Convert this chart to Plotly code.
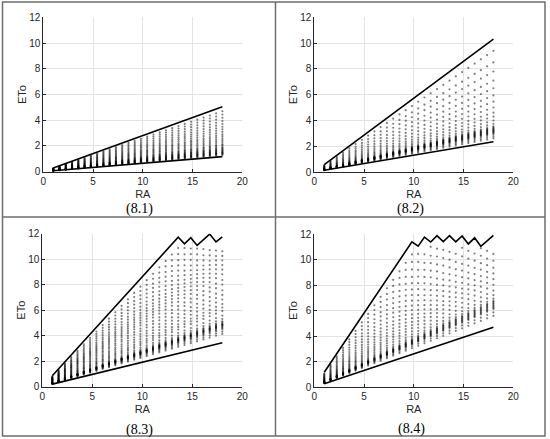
import plotly.graph_objects as go

# ---------------- data ----------------
# RA values of the dotted columns (same in all four panels)
ra = [1.00, 1.63, 2.26, 2.89, 3.52, 4.15, 4.78, 5.41, 6.04, 6.67,
      7.30, 7.93, 8.56, 9.19, 9.81, 10.44, 11.07, 11.70, 12.33, 12.96,
      13.59, 14.22, 14.85, 15.48, 16.11, 16.74, 17.37, 18.00]

# dots lie on rays from the origin: ETo / RA ratios read per panel
p1_ratio = [0.261, 0.247, 0.233, 0.219, 0.206, 0.194, 0.183, 0.172, 0.161,
            0.153, 0.144, 0.136, 0.128, 0.119, 0.114, 0.108, 0.103, 0.099,
            0.096, 0.092, 0.089, 0.086, 0.083, 0.081, 0.078, 0.075, 0.072]
p2_ratio = [0.522, 0.472, 0.433, 0.394, 0.361, 0.330, 0.303, 0.278, 0.256,
            0.239, 0.222, 0.208, 0.197, 0.192, 0.188, 0.185, 0.182, 0.179,
            0.176, 0.173, 0.170, 0.167, 0.161, 0.153, 0.145]
p3_ratio = [0.800, 0.765, 0.730, 0.700, 0.670, 0.640, 0.615, 0.590, 0.570,
            0.550, 0.530, 0.510, 0.490, 0.465, 0.445, 0.420, 0.400, 0.380,
            0.360, 0.345, 0.330, 0.310, 0.295, 0.285, 0.280, 0.275, 0.272,
            0.270, 0.267, 0.264, 0.260, 0.255, 0.250, 0.240, 0.230]
p4_ratio = [1.060, 1.000, 0.940, 0.880, 0.830, 0.780, 0.735, 0.690, 0.650,
            0.615, 0.580, 0.550, 0.520, 0.495, 0.470, 0.445, 0.420, 0.400,
            0.385, 0.375, 0.370, 0.365, 0.360, 0.355, 0.350, 0.345, 0.340,
            0.325, 0.310]
# largest ETo shown as a dot (panels 8.3 / 8.4)
dot_cap = [None, None, 11.0, 11.0]

# boundary lines: straight ones given at RA = 1 and RA = 18
p1_upper = [0.28, 5.05]
p1_lower = [0.07, 1.17]
p2_upper = [0.57, 10.30]
p2_lower = [0.14, 2.35]
p3_upper = [0.86, 1.40, 1.94, 2.49, 3.03, 3.57, 4.11, 4.65, 5.19, 5.74,
            6.28, 6.82, 7.36, 7.90, 8.44, 8.98, 9.52, 10.06, 10.60, 11.15,
            11.72, 11.20, 11.68, 11.08, 11.52, 11.97, 11.35, 11.75]
p3_lower = [0.20, 3.45]
p4_upper = [1.16, 1.89, 2.62, 3.35, 4.08, 4.81, 5.54, 6.28, 7.01, 7.74,
            8.47, 9.20, 9.93, 10.66, 11.38, 11.04, 11.76, 11.37, 11.87, 11.40,
            11.87, 11.38, 11.85, 11.22, 11.70, 11.04, 11.45, 11.90]
p4_lower = [0.26, 4.68]

captions = ["(8.1)", "(8.2)", "(8.3)", "(8.4)"]
x_ticks = [0, 5, 10, 15, 20]
y_ticks = [0, 2, 4, 6, 8, 10, 12]

# ---------------- layout geometry (pixels) ----------------
W, H = 550, 439
# plot areas: (x_left, x_right, y_bottom, y_top) in pixels
areas = [(43.3, 242.3, 171.7, 17.3),
         (314.3, 513.3, 172.0, 17.3),
         (42.3, 242.3, 386.7, 233.7),
         (314.3, 513.3, 387.0, 234.0)]
caption_pos = [(140, 209), (410, 209), (139, 430), (411, 429)]

ratios = [p1_ratio, p2_ratio, p3_ratio, p4_ratio]
uppers = [p1_upper, p2_upper, p3_upper, p4_upper]
lowers = [p1_lower, p2_lower, p3_lower, p4_lower]


def fx(x):
    return x / W


def fy(y):
    return 1 - y / H


def line_x(vals):
    return [ra[0], ra[-1]] if len(vals) == 2 else ra


fig = go.Figure()
axis_font = dict(family="Liberation Sans, Arial, sans-serif", size=10, color="#262626")
title_font = dict(family="Liberation Sans, Arial, sans-serif", size=11, color="#262626")

for i in range(4):
    sx = "" if i == 0 else str(i + 1)
    xs, ys = [], []
    for r in ra:
        for k in ratios[i]:
            v = r * k
            if dot_cap[i] is not None and v > dot_cap[i]:
                continue
            xs.append(r)
            ys.append(v)
    fig.add_trace(go.Scatter(x=xs, y=ys, mode="markers",
                             marker=dict(size=2.2, color="black", opacity=0.5,
                                         line=dict(width=0)),
                             xaxis="x" + sx, yaxis="y" + sx, hoverinfo="skip"))
    fig.add_trace(go.Scatter(x=line_x(uppers[i]), y=uppers[i], mode="lines",
                             line=dict(color="black", width=1.6),
                             xaxis="x" + sx, yaxis="y" + sx))
    fig.add_trace(go.Scatter(x=line_x(lowers[i]), y=lowers[i], mode="lines",
                             line=dict(color="black", width=1.6),
                             xaxis="x" + sx, yaxis="y" + sx))

    xl, xr, yb, yt = areas[i]
    common = dict(showgrid=True, gridcolor="#e3e3e3", gridwidth=1, zeroline=False,
                  showline=True, linecolor="#262626", linewidth=1,
                  ticks="inside", ticklen=3, tickcolor="#262626",
                  tickfont=axis_font, mirror=False, automargin=False)
    fig.layout["xaxis" + sx] = dict(common, domain=[fx(xl), fx(xr)], range=[0, 20],
                                    tickvals=x_ticks, anchor="y" + sx,
                                    title=dict(text="RA", font=title_font, standoff=4))
    fig.layout["yaxis" + sx] = dict(common, domain=[fy(yb), fy(yt)], range=[0, 12],
                                    tickvals=y_ticks, anchor="x" + sx,
                                    title=dict(text="ETo", font=title_font, standoff=0))
    cx, cy = caption_pos[i]
    fig.add_annotation(text=captions[i], x=fx(cx), y=fy(cy), xref="paper", yref="paper",
                       showarrow=False, xanchor="center", yanchor="middle",
                       font=dict(family="Liberation Serif, Times New Roman, serif",
                                 size=14, color="black"))

# table borders
bc = dict(color="#6e6e6e", width=1.5)
shapes = [
    dict(type="rect", xref="paper", yref="paper", x0=fx(2.5), x1=fx(545), y0=fy(436), y1=fy(2), line=bc),
    dict(type="line", xref="paper", yref="paper", x0=fx(275.5), x1=fx(275.5), y0=fy(436), y1=fy(2), line=bc),
    dict(type="line", xref="paper", yref="paper", x0=fx(2.5), x1=fx(545), y0=fy(217), y1=fy(217), line=bc),
]

fig.update_layout(width=W, height=H, margin=dict(l=0, r=0, t=0, b=0),
                  paper_bgcolor="white", plot_bgcolor="white",
                  showlegend=False, shapes=shapes)

fig.write_html("out.html", config={"displayModeBar": False},
               post_script="document.body.style.margin='0';document.body.style.overflow='hidden';")
